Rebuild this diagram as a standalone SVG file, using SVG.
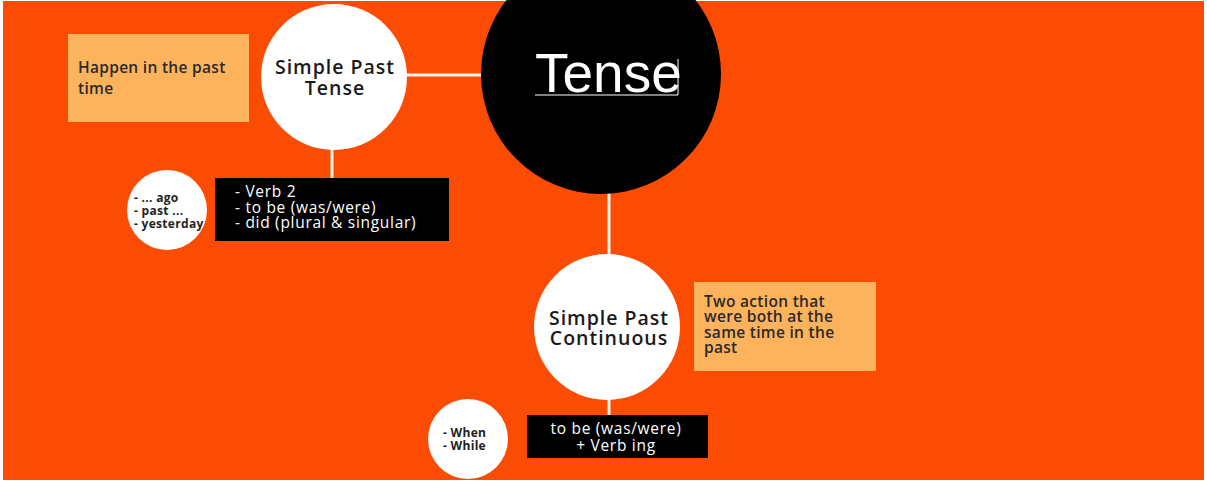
<svg xmlns="http://www.w3.org/2000/svg" width="1207" height="483" viewBox="0 0 1207 483">
  <style>
    .bg { fill: #fc4c03; }
    .node-white { fill: #ffffff; }
    .node-black { fill: #000000; }
    .note { fill: #fdb35b; }
    .link { stroke: #fff3e8; stroke-width: 3; fill: none; }
    .title { font-family: "Open Sans", "Liberation Sans", sans-serif; font-weight: 600; font-size: 19.5px; letter-spacing: 1px; fill: #1a1a1a; text-anchor: middle; }
    .note-text { font-family: "Open Sans", "Liberation Sans", sans-serif; font-weight: 600; font-size: 15.5px; letter-spacing: 0.3px; fill: #2a2a2a; }
    .rule-text { font-family: "Open Sans", "Liberation Sans", sans-serif; font-weight: 500; font-size: 15.5px; letter-spacing: 0.7px; fill: #ffffff; }
    .cue-text { font-family: "Open Sans", "Liberation Sans", sans-serif; font-weight: 700; font-size: 12px; letter-spacing: 0.3px; fill: #222222; }
    .main-text { font-family: "Liberation Sans", Arial, sans-serif; font-size: 55px; fill: #ffffff; }
  </style>

  <!-- page background with thin white margin -->
  <rect x="0" y="0" width="1207" height="483" fill="#ffffff"/>
  <rect class="bg" x="3" y="1" width="1201" height="479"/>

  <!-- connectors -->
  <g id="connectors">
    <line class="link" x1="405" y1="75" x2="483" y2="75"/>
    <line class="link" x1="332" y1="148" x2="332" y2="179"/>
    <line class="link" x1="609" y1="192" x2="609" y2="256"/>
    <line class="link" x1="609" y1="398" x2="609" y2="416"/>
  </g>

  <!-- central topic -->
  <g id="tense">
    <circle class="node-black" cx="601" cy="74" r="120"/>
    <text class="main-text" x="535" y="92">Tense</text>
    <line x1="535" y1="95" x2="678" y2="95" stroke="#ffffff" stroke-width="1.2"/>
    <line x1="678" y1="59" x2="678" y2="95" stroke="#ffffff" stroke-width="1"/>
  </g>

  <!-- simple past tense branch -->
  <g id="simple-past">
    <circle class="node-white" cx="334" cy="77" r="73"/>
    <text class="title" x="335" y="74">Simple Past</text>
    <text class="title" x="335" y="95">Tense</text>
  </g>

  <g id="simple-past-note">
    <rect class="note" x="68" y="34" width="181" height="88"/>
    <text class="note-text" x="78" y="73">Happen in the past</text>
    <text class="note-text" x="78" y="94">time</text>
  </g>

  <g id="simple-past-form">
    <rect class="node-black" x="215" y="178" width="234" height="63"/>
    <text class="rule-text" x="235" y="197">- Verb 2</text>
    <text class="rule-text" x="235" y="212.5">- to be (was/were)</text>
    <text class="rule-text" x="235" y="228">- did (plural &amp; singular)</text>
  </g>

  <g id="simple-past-cues">
    <circle class="node-white" cx="167" cy="210" r="40"/>
    <text class="cue-text" x="134" y="202">- ... ago</text>
    <text class="cue-text" x="134" y="215">- past ...</text>
    <text class="cue-text" x="134" y="228">- yesterday</text>
  </g>

  <!-- simple past continuous branch -->
  <g id="past-continuous">
    <circle class="node-white" cx="607" cy="327" r="73"/>
    <text class="title" x="609" y="325">Simple Past</text>
    <text class="title" x="609" y="345">Continuous</text>
  </g>

  <g id="past-continuous-note">
    <rect class="note" x="694" y="282" width="182" height="89"/>
    <text class="note-text" x="704" y="307">Two action that</text>
    <text class="note-text" x="704" y="322">were both at the</text>
    <text class="note-text" x="704" y="338">same time in the</text>
    <text class="note-text" x="704" y="353">past</text>
  </g>

  <g id="past-continuous-form">
    <rect class="node-black" x="527" y="415" width="181" height="43"/>
    <text class="rule-text" x="616" y="434" text-anchor="middle">to be (was/were)</text>
    <text class="rule-text" x="616" y="451" text-anchor="middle">+ Verb ing</text>
  </g>

  <g id="past-continuous-cues">
    <circle class="node-white" cx="468" cy="439" r="40"/>
    <text class="cue-text" x="443" y="437">- When</text>
    <text class="cue-text" x="443" y="450">- While</text>
  </g>
</svg>
